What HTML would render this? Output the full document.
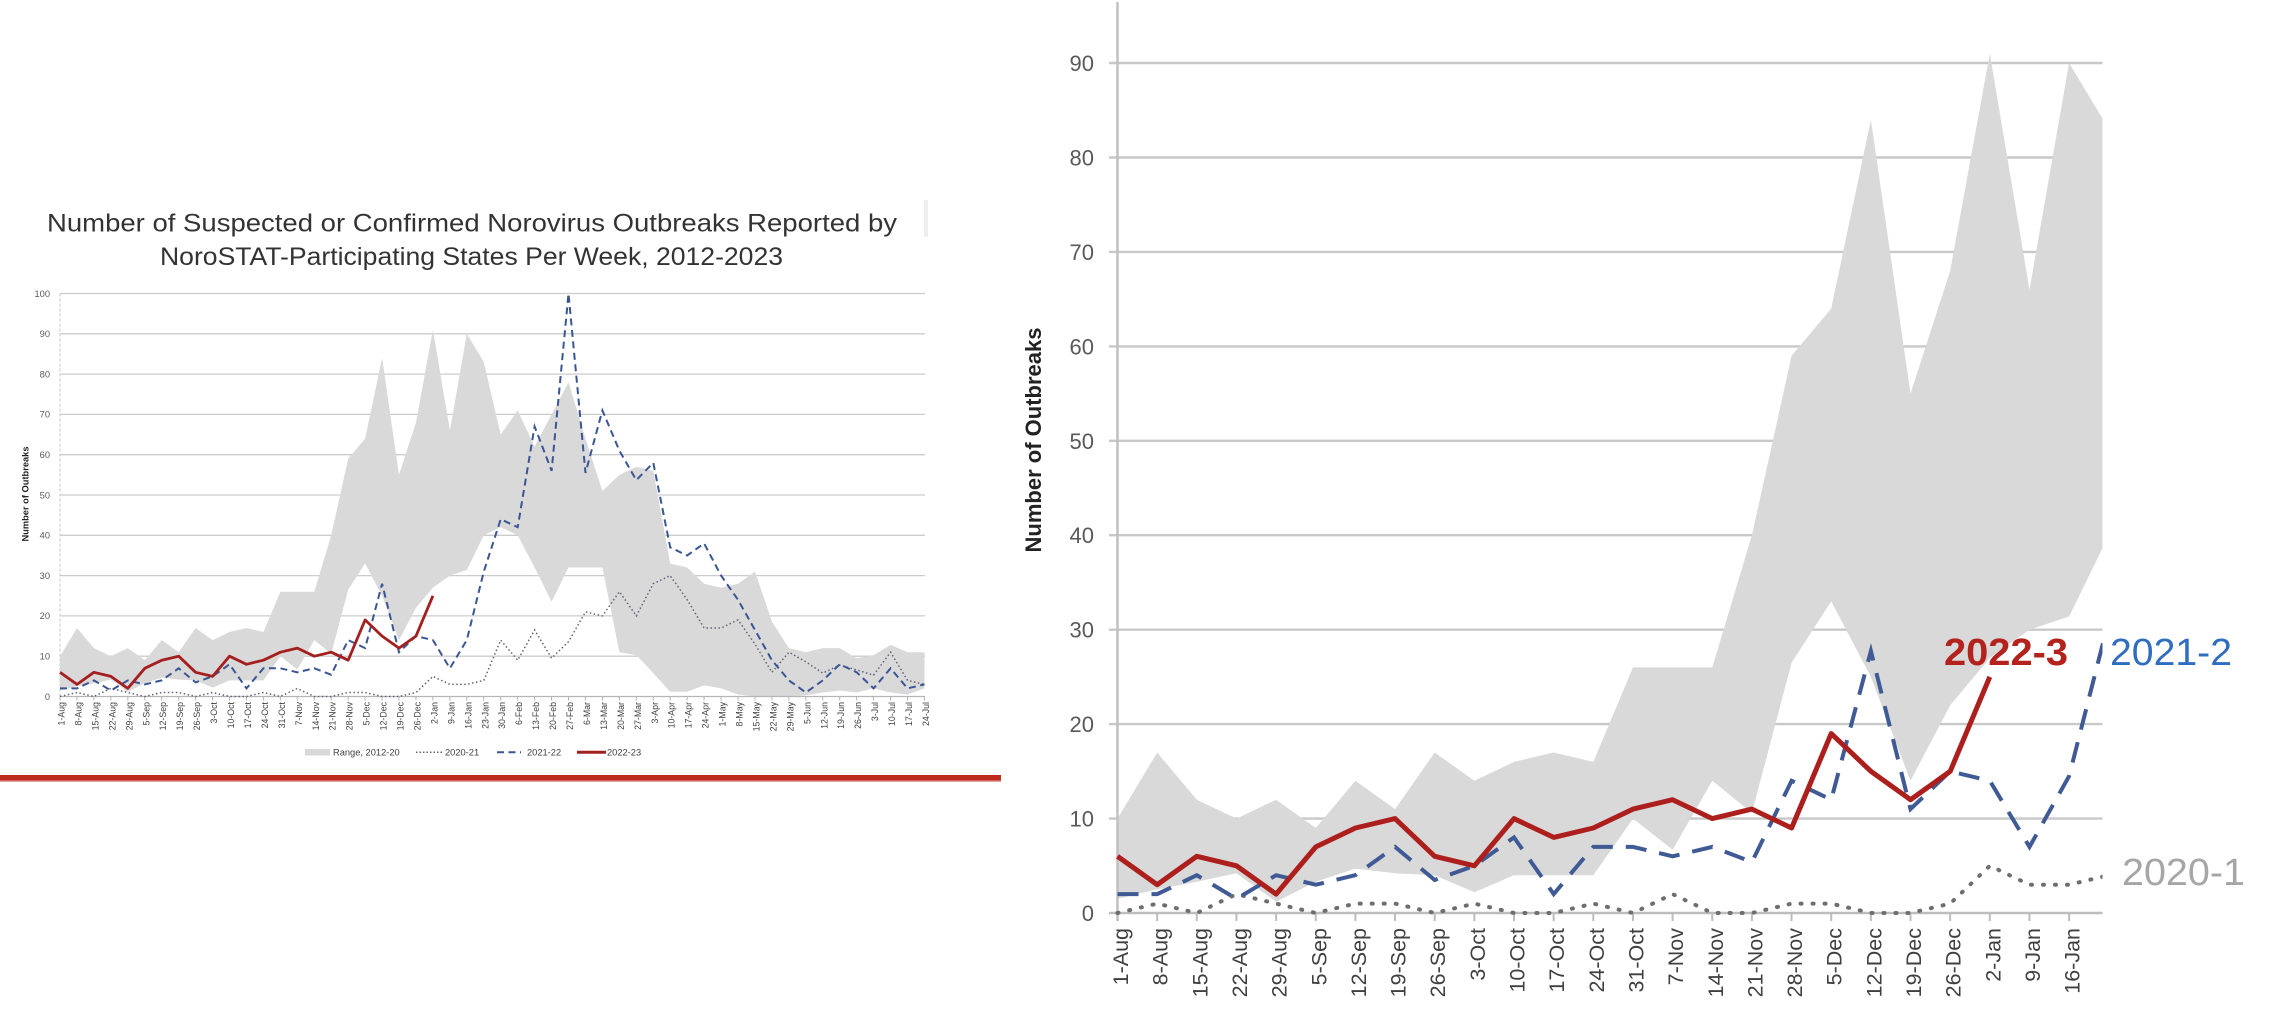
<!DOCTYPE html>
<html><head><meta charset="utf-8"><style>
html,body{margin:0;padding:0;background:#fff;}
svg{display:block;font-family:"Liberation Sans",Arial,sans-serif;}
</style></head><body>
<svg width="2270" height="1026" viewBox="0 0 2270 1026" xmlns="http://www.w3.org/2000/svg">
<rect width="2270" height="1026" fill="#fff"/>
<defs><clipPath id="rc"><rect x="1100" y="0" width="1002.5" height="1026"/></clipPath></defs>

<!-- ============ LEFT CHART ============ -->
<text x="472" y="231.7" font-size="25" fill="#333" text-anchor="middle" textLength="850" lengthAdjust="spacingAndGlyphs">Number of Suspected or Confirmed Norovirus Outbreaks Reported by</text>
<text x="471.5" y="265" font-size="25" fill="#333" text-anchor="middle" textLength="623" lengthAdjust="spacingAndGlyphs">NoroSTAT-Participating States Per Week, 2012-2023</text>
<rect x="924" y="200" width="4" height="37" fill="#eeeeee"/>

<g stroke="#cccccc" stroke-width="1.3">
<line x1="60" y1="656.2" x2="925" y2="656.2"/>
<line x1="60" y1="615.9" x2="925" y2="615.9"/>
<line x1="60" y1="575.6" x2="925" y2="575.6"/>
<line x1="60" y1="535.3" x2="925" y2="535.3"/>
<line x1="60" y1="495" x2="925" y2="495"/>
<line x1="60" y1="454.7" x2="925" y2="454.7"/>
<line x1="60" y1="414.4" x2="925" y2="414.4"/>
<line x1="60" y1="374.1" x2="925" y2="374.1"/>
<line x1="60" y1="333.8" x2="925" y2="333.8"/>
<line x1="60" y1="293.5" x2="925" y2="293.5"/>
</g>
<line x1="60" y1="293.5" x2="60" y2="700" stroke="#c4c4c4" stroke-width="1" stroke-dasharray="3 2"/>

<polygon fill="#d9d9d9" points="60,656.2 77,628 93.9,648.1 110.9,656.2 127.8,648.1 144.8,660.2 161.7,640.1 178.7,652.2 195.6,628 212.6,640.1 229.5,632 246.5,628 263.4,632 280.4,591.7 297.3,591.7 314.3,591.7 331.2,535.3 348.2,458.7 365.1,438.6 382.1,358 399,474.9 416,422.5 432.9,329.8 449.9,430.5 466.8,333.8 483.8,362 500.7,434.6 517.7,410.4 534.6,446.6 551.6,414.4 568.5,382.2 585.5,438.6 602.4,491 619.4,474.9 636.3,466.8 653.3,470.8 670.2,563.5 687.2,567.5 704.1,583.7 721.1,587.7 738,583.7 755,571.6 771.9,621.5 788.9,648.1 805.8,652.2 822.8,648.1 839.7,648.1 856.7,658.2 873.6,655 890.6,644.9 907.5,652.2 924.5,652.2 924.5,688.4 907.5,694.5 890.6,692.5 873.6,688.4 856.7,692.5 839.7,690.5 822.8,692.5 805.8,695.3 788.9,696.5 771.9,696.5 755,696.5 738,694.5 721.1,688.4 704.1,685.2 687.2,691.7 670.2,691.7 653.3,673.1 636.3,655 619.4,652.2 602.4,567.5 585.5,567.5 568.5,567.5 551.6,601.8 534.6,567.5 517.7,535.3 500.7,527.2 483.8,535.3 466.8,570 449.9,575.6 432.9,587.7 416,607.8 399,640.1 382.1,595.8 365.1,563.5 348.2,589.7 331.2,653.8 314.3,640.1 297.3,669.5 280.4,656.2 263.4,680.4 246.5,680.4 229.5,680.4 212.6,687.6 195.6,680.4 178.7,679.6 161.7,677.6 144.8,683.2 127.8,691.7 110.9,679.6 93.9,683.2 77,686.4 60,690.5"/>

<line x1="60" y1="696.5" x2="925" y2="696.5" stroke="#b5b5b5" stroke-width="1.3"/>
<line x1="59.5" y1="698.5" x2="926" y2="698.5" stroke="#b5b5b5" stroke-width="4" stroke-dasharray="1 15.95"/>

<polyline fill="none" stroke="#5f6478" stroke-width="1.5" stroke-dasharray="1.5 2.5" points="60,696.5 77,692.5 93.9,696.5 110.9,688.4 127.8,692.5 144.8,696.5 161.7,692.5 178.7,692.5 195.6,696.5 212.6,692.5 229.5,696.5 246.5,696.5 263.4,692.5 280.4,696.5 297.3,688.4 314.3,696.5 331.2,696.5 348.2,692.5 365.1,692.5 382.1,696.5 399,696.5 416,692.5 432.9,676.4 449.9,684.4 466.8,684.4 483.8,680.4 500.7,640.1 517.7,660.2 534.6,630 551.6,658.2 568.5,641.7 585.5,611.9 602.4,615.9 619.4,591.7 636.3,615.9 653.3,583.7 670.2,575.6 687.2,599.8 704.1,628 721.1,628 738,619.9 755,644.1 771.9,672.3 788.9,652.2 805.8,661.8 822.8,673.1 839.7,665.1 856.7,669.9 873.6,675.1 890.6,652.2 907.5,680.4 924.5,684.4"/>
<polyline fill="none" stroke="#3a5594" stroke-width="2" stroke-dasharray="7 4.5" points="60,688.4 77,688.4 93.9,680.4 110.9,690.5 127.8,680.4 144.8,684.4 161.7,680.4 178.7,668.3 195.6,682.4 212.6,676.4 229.5,664.3 246.5,688.4 263.4,668.3 280.4,668.3 297.3,672.3 314.3,668.3 331.2,674.7 348.2,640.1 365.1,648.1 382.1,583.7 399,652.2 416,636.1 432.9,640.1 449.9,668.3 466.8,640.1 483.8,571.6 500.7,519.2 517.7,527.2 534.6,426.5 551.6,470.8 568.5,293.5 585.5,472.9 602.4,410.4 619.4,450.7 636.3,480.1 653.3,462.8 670.2,547.4 687.2,555.5 704.1,543.4 721.1,575.6 738,599.8 755,630 771.9,660.2 788.9,680.4 805.8,692.5 822.8,680.4 839.7,664.3 856.7,672.3 873.6,688.4 890.6,668.3 907.5,688.4 924.5,684.4"/>
<polyline fill="none" stroke="#a51f1f" stroke-width="2.8" stroke-linejoin="round" points="60,672.3 77,684.4 93.9,672.3 110.9,676.4 127.8,688.4 144.8,668.3 161.7,660.2 178.7,656.2 195.6,672.3 212.6,676.4 229.5,656.2 246.5,664.3 263.4,660.2 280.4,652.2 297.3,648.1 314.3,656.2 331.2,652.2 348.2,660.2 365.1,619.9 382.1,636.1 399,648.1 416,636.1 432.9,595.8"/>

<g font-size="9.3" fill="#595959" text-anchor="end">
<text x="50" y="699.8">0</text><text x="50" y="659.5">10</text><text x="50" y="619.2">20</text><text x="50" y="578.9">30</text><text x="50" y="538.6">40</text><text x="50" y="498.3">50</text><text x="50" y="458">60</text><text x="50" y="417.7">70</text><text x="50" y="377.4">80</text><text x="50" y="337.1">90</text><text x="50" y="296.8">100</text>
</g>
<text transform="translate(28.3,494) rotate(-90)" font-size="9.3" font-weight="bold" fill="#222" text-anchor="middle">Number of Outbreaks</text>

<g font-size="8.8" fill="#404040" text-anchor="end">
<text transform="translate(64.5,702) rotate(-90)">1-Aug</text>
<text transform="translate(81.5,702) rotate(-90)">8-Aug</text>
<text transform="translate(98.4,702) rotate(-90)">15-Aug</text>
<text transform="translate(115.4,702) rotate(-90)">22-Aug</text>
<text transform="translate(132.3,702) rotate(-90)">29-Aug</text>
<text transform="translate(149.3,702) rotate(-90)">5-Sep</text>
<text transform="translate(166.2,702) rotate(-90)">12-Sep</text>
<text transform="translate(183.2,702) rotate(-90)">19-Sep</text>
<text transform="translate(200.1,702) rotate(-90)">26-Sep</text>
<text transform="translate(217.1,702) rotate(-90)">3-Oct</text>
<text transform="translate(234,702) rotate(-90)">10-Oct</text>
<text transform="translate(251,702) rotate(-90)">17-Oct</text>
<text transform="translate(267.9,702) rotate(-90)">24-Oct</text>
<text transform="translate(284.9,702) rotate(-90)">31-Oct</text>
<text transform="translate(301.8,702) rotate(-90)">7-Nov</text>
<text transform="translate(318.8,702) rotate(-90)">14-Nov</text>
<text transform="translate(335.7,702) rotate(-90)">21-Nov</text>
<text transform="translate(352.7,702) rotate(-90)">28-Nov</text>
<text transform="translate(369.6,702) rotate(-90)">5-Dec</text>
<text transform="translate(386.6,702) rotate(-90)">12-Dec</text>
<text transform="translate(403.5,702) rotate(-90)">19-Dec</text>
<text transform="translate(420.5,702) rotate(-90)">26-Dec</text>
<text transform="translate(437.4,702) rotate(-90)">2-Jan</text>
<text transform="translate(454.4,702) rotate(-90)">9-Jan</text>
<text transform="translate(471.3,702) rotate(-90)">16-Jan</text>
<text transform="translate(488.3,702) rotate(-90)">23-Jan</text>
<text transform="translate(505.2,702) rotate(-90)">30-Jan</text>
<text transform="translate(522.2,702) rotate(-90)">6-Feb</text>
<text transform="translate(539.1,702) rotate(-90)">13-Feb</text>
<text transform="translate(556.1,702) rotate(-90)">20-Feb</text>
<text transform="translate(573,702) rotate(-90)">27-Feb</text>
<text transform="translate(590,702) rotate(-90)">6-Mar</text>
<text transform="translate(606.9,702) rotate(-90)">13-Mar</text>
<text transform="translate(623.9,702) rotate(-90)">20-Mar</text>
<text transform="translate(640.8,702) rotate(-90)">27-Mar</text>
<text transform="translate(657.8,702) rotate(-90)">3-Apr</text>
<text transform="translate(674.7,702) rotate(-90)">10-Apr</text>
<text transform="translate(691.7,702) rotate(-90)">17-Apr</text>
<text transform="translate(708.6,702) rotate(-90)">24-Apr</text>
<text transform="translate(725.6,702) rotate(-90)">1-May</text>
<text transform="translate(742.5,702) rotate(-90)">8-May</text>
<text transform="translate(759.5,702) rotate(-90)">15-May</text>
<text transform="translate(776.4,702) rotate(-90)">22-May</text>
<text transform="translate(793.4,702) rotate(-90)">29-May</text>
<text transform="translate(810.3,702) rotate(-90)">5-Jun</text>
<text transform="translate(827.3,702) rotate(-90)">12-Jun</text>
<text transform="translate(844.2,702) rotate(-90)">19-Jun</text>
<text transform="translate(861.2,702) rotate(-90)">26-Jun</text>
<text transform="translate(878.1,702) rotate(-90)">3-Jul</text>
<text transform="translate(895.1,702) rotate(-90)">10-Jul</text>
<text transform="translate(912,702) rotate(-90)">17-Jul</text>
<text transform="translate(929,702) rotate(-90)">24-Jul</text>
</g>

<!-- legend -->
<rect x="305" y="749" width="25" height="6.5" fill="#d9d9d9"/>
<line x1="416" y1="752.3" x2="443" y2="752.3" stroke="#5f6478" stroke-width="1.5" stroke-dasharray="1.5 2"/>
<line x1="497" y1="752.3" x2="521" y2="752.3" stroke="#3a5594" stroke-width="2" stroke-dasharray="7 4.5"/>
<line x1="577" y1="752.3" x2="606" y2="752.3" stroke="#a51f1f" stroke-width="3"/>
<g font-size="9.3" fill="#404040">
<text x="333" y="755.6">Range, 2012-20</text>
<text x="445" y="755.6">2020-21</text>
<text x="527" y="755.6">2021-22</text>
<text x="607" y="755.6">2022-23</text>
</g>

<!-- red bar -->
<rect x="0" y="775" width="1001" height="5.5" fill="#bd2a1e"/>
<rect x="0" y="780.5" width="1001" height="1.5" fill="#e3a39b"/>

<!-- ============ RIGHT CHART ============ -->
<g stroke="#c8c8c8" stroke-width="2.4">
<line x1="1109" y1="818.6" x2="2102.5" y2="818.6"/>
<line x1="1109" y1="724.1" x2="2102.5" y2="724.1"/>
<line x1="1109" y1="629.7" x2="2102.5" y2="629.7"/>
<line x1="1109" y1="535.2" x2="2102.5" y2="535.2"/>
<line x1="1109" y1="440.8" x2="2102.5" y2="440.8"/>
<line x1="1109" y1="346.4" x2="2102.5" y2="346.4"/>
<line x1="1109" y1="251.9" x2="2102.5" y2="251.9"/>
<line x1="1109" y1="157.5" x2="2102.5" y2="157.5"/>
<line x1="1109" y1="63" x2="2102.5" y2="63"/>
</g>

<g clip-path="url(#rc)">
<polygon fill="#d9d9d9" points="1117.5,818.6 1157.2,752.5 1196.8,799.7 1236.5,818.6 1276.1,799.7 1315.8,828 1355.4,780.8 1395.1,809.1 1434.7,752.5 1474.4,780.8 1514,761.9 1553.7,752.5 1593.3,761.9 1633,667.4 1672.6,667.4 1712.3,667.4 1751.9,535.2 1791.6,355.8 1831.2,308.6 1870.9,119.7 1910.5,393.6 1950.2,270.8 1989.8,53.6 2029.5,289.7 2069.1,63 2108.8,129.1 2108.8,535.2 2069.1,616.5 2029.5,629.7 1989.8,658 1950.2,705.2 1910.5,780.8 1870.9,676.9 1831.2,601.3 1791.6,662.7 1751.9,812.9 1712.3,780.8 1672.6,849.7 1633,818.6 1593.3,875.2 1553.7,875.2 1514,875.2 1474.4,892.2 1434.7,875.2 1395.1,873.3 1355.4,868.6 1315.8,881.8 1276.1,901.7 1236.5,873.3 1196.8,881.8 1157.2,889.4 1117.5,898.8"/>
</g>

<line x1="1117.5" y1="2" x2="1117.5" y2="921" stroke="#c0c0c0" stroke-width="2.5"/>
<line x1="1109" y1="913" x2="2102.5" y2="913" stroke="#bdbdbd" stroke-width="2.5"/>
<line x1="1116.5" y1="917" x2="2072" y2="917" stroke="#bdbdbd" stroke-width="8" stroke-dasharray="2 37.65"/>

<g clip-path="url(#rc)">
<polyline fill="none" stroke="#6e6e6e" stroke-width="4" stroke-linecap="round" stroke-dasharray="1 11" points="1117.5,913 1157.2,903.6 1196.8,913 1236.5,894.1 1276.1,903.6 1315.8,913 1355.4,903.6 1395.1,903.6 1434.7,913 1474.4,903.6 1514,913 1553.7,913 1593.3,903.6 1633,913 1672.6,894.1 1712.3,913 1751.9,913 1791.6,903.6 1831.2,903.6 1870.9,913 1910.5,913 1950.2,903.6 1989.8,865.8 2029.5,884.7 2069.1,884.7 2108.8,875.2"/>
<polyline fill="none" stroke="#3f5a94" stroke-width="4" stroke-dasharray="21 13" points="1117.5,894.1 1157.2,894.1 1196.8,875.2 1236.5,898.8 1276.1,875.2 1315.8,884.7 1355.4,875.2 1395.1,846.9 1434.7,880 1474.4,865.8 1514,837.4 1553.7,894.1 1593.3,846.9 1633,846.9 1672.6,856.3 1712.3,846.9 1751.9,862 1791.6,780.8 1831.2,799.7 1870.9,651 1910.5,809.1 1950.2,771.3 1989.8,780.8 2029.5,846.9 2069.1,776.1 2108.8,620.2"/>
<polyline fill="none" stroke="#ad1f1c" stroke-width="5" stroke-linejoin="round" points="1117.5,856.3 1157.2,884.7 1196.8,856.3 1236.5,865.8 1276.1,894.1 1315.8,846.9 1355.4,828 1395.1,818.6 1434.7,856.3 1474.4,865.8 1514,818.6 1553.7,837.4 1593.3,828 1633,809.1 1672.6,799.7 1712.3,818.6 1751.9,809.1 1791.6,828 1831.2,733.6 1870.9,771.3 1910.5,799.7 1950.2,771.3 1989.8,676.9"/>
</g>

<g font-size="22" fill="#595959" text-anchor="end">
<text x="1094" y="921">0</text>
<text x="1094" y="826.6">10</text>
<text x="1094" y="732.1">20</text>
<text x="1094" y="637.7">30</text>
<text x="1094" y="543.2">40</text>
<text x="1094" y="448.8">50</text>
<text x="1094" y="354.4">60</text>
<text x="1094" y="259.9">70</text>
<text x="1094" y="165.5">80</text>
<text x="1094" y="71">90</text>
</g>
<text transform="translate(1041,440) rotate(-90)" font-size="22" font-weight="bold" fill="#222" text-anchor="middle">Number of Outbreaks</text>

<g font-size="21.5" fill="#404040" text-anchor="end">
<text transform="translate(1128,928) rotate(-90)">1-Aug</text>
<text transform="translate(1167.7,928) rotate(-90)">8-Aug</text>
<text transform="translate(1207.3,928) rotate(-90)">15-Aug</text>
<text transform="translate(1247,928) rotate(-90)">22-Aug</text>
<text transform="translate(1286.6,928) rotate(-90)">29-Aug</text>
<text transform="translate(1326.3,928) rotate(-90)">5-Sep</text>
<text transform="translate(1365.9,928) rotate(-90)">12-Sep</text>
<text transform="translate(1405.6,928) rotate(-90)">19-Sep</text>
<text transform="translate(1445.2,928) rotate(-90)">26-Sep</text>
<text transform="translate(1484.9,928) rotate(-90)">3-Oct</text>
<text transform="translate(1524.5,928) rotate(-90)">10-Oct</text>
<text transform="translate(1564.2,928) rotate(-90)">17-Oct</text>
<text transform="translate(1603.8,928) rotate(-90)">24-Oct</text>
<text transform="translate(1643.5,928) rotate(-90)">31-Oct</text>
<text transform="translate(1683.1,928) rotate(-90)">7-Nov</text>
<text transform="translate(1722.8,928) rotate(-90)">14-Nov</text>
<text transform="translate(1762.4,928) rotate(-90)">21-Nov</text>
<text transform="translate(1802.1,928) rotate(-90)">28-Nov</text>
<text transform="translate(1841.7,928) rotate(-90)">5-Dec</text>
<text transform="translate(1881.4,928) rotate(-90)">12-Dec</text>
<text transform="translate(1921,928) rotate(-90)">19-Dec</text>
<text transform="translate(1960.7,928) rotate(-90)">26-Dec</text>
<text transform="translate(2000.3,928) rotate(-90)">2-Jan</text>
<text transform="translate(2040,928) rotate(-90)">9-Jan</text>
<text transform="translate(2079.6,928) rotate(-90)">16-Jan</text>
</g>

<text x="1944" y="665" font-size="38" font-weight="bold" fill="#b3221c" textLength="124" lengthAdjust="spacingAndGlyphs">2022-3</text>
<text x="2110" y="665" font-size="38" fill="#2f6dc1" textLength="122" lengthAdjust="spacingAndGlyphs">2021-2</text>
<text x="2122" y="885" font-size="38" fill="#a6a6a6" textLength="123" lengthAdjust="spacingAndGlyphs">2020-1</text>
</svg>
</body></html>
